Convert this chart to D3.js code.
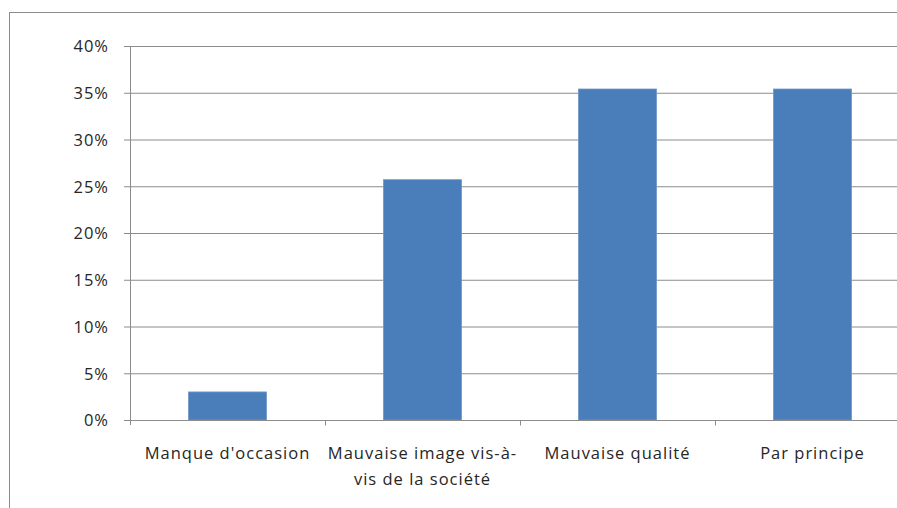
<!DOCTYPE html>
<html>
<head>
<meta charset="utf-8">
<script src="https://cdn.jsdelivr.net/npm/d3@7"></script>
<style>
  html, body { margin: 0; padding: 0; background: #fff; }
  svg { display: block; }
  text { font-family: "Open Sans", Lato, sans-serif; fill: #262626; }
</style>
</head>
<body>
<svg id="chart" width="897" height="508"></svg>
<script>
// Share of respondents by reason
const categories = ["Manque d'occasion", "Mauvaise image vis-à-vis de la société", "Mauvaise qualité", "Par principe"];
const labelLines = [["Manque d'occasion"], ["Mauvaise image vis-à-", "vis de la société"], ["Mauvaise qualité"], ["Par principe"]];
const values = [0.03, 0.257, 0.354, 0.354];
const yTicks = [0, 0.05, 0.10, 0.15, 0.20, 0.25, 0.30, 0.35, 0.40];

const W = 897, H = 508;
const FONT = 16.5, SPACING = 1.0;
const svg = d3.select("#chart");

// Outer chart frame (left and top edges visible in the viewport)
svg.append("rect")
  .attr("x", 9.5).attr("y", 12.5)
  .attr("width", W + 20).attr("height", H + 20)
  .attr("fill", "#fff").attr("stroke", "#8c8c8c").attr("stroke-width", 1);

const plot = { left: 130, right: 910, top: 46, bottom: 420 };

const x = d3.scaleBand().domain(categories).range([plot.left, plot.right]).padding(0);
const y = d3.scaleLinear().domain([0, 0.40]).range([plot.bottom, plot.top]);

// Horizontal gridlines with tick marks to the left of the axis
const yAxis = d3.axisLeft(y).tickValues(yTicks).tickFormat(d3.format(".0%"))
  .tickSize(-(plot.right - plot.left)).tickSizeOuter(0).tickPadding(21);
const gy = svg.append("g").attr("transform", `translate(${plot.left},0)`).call(yAxis);
gy.select(".domain").remove();
gy.selectAll(".tick line").attr("stroke", "#8c8c8c").attr("x1", -6);
gy.selectAll(".tick text").attr("font-size", FONT).attr("letter-spacing", SPACING)
  .attr("fill", "#262626").attr("dy", "0.36em");

// Vertical axis line
svg.append("line")
  .attr("x1", plot.left + 0.5).attr("x2", plot.left + 0.5)
  .attr("y1", plot.top).attr("y2", plot.bottom + 5)
  .attr("stroke", "#8c8c8c");

// Bars
const barW = x.bandwidth() / 2.5;
svg.append("g").selectAll("rect").data(values).join("rect")
  .attr("x", (d, i) => x(categories[i]) + (x.bandwidth() - barW) / 2)
  .attr("y", d => y(d))
  .attr("width", barW)
  .attr("height", d => y(0) - y(d))
  .attr("fill", "#4a7ebb")
  .attr("stroke", "#6f97c9").attr("stroke-width", 0.8);

// Horizontal axis with category separators
const xAxis = d3.axisBottom(x).tickSize(0).tickFormat("");
const gx = svg.append("g").attr("transform", `translate(0,${plot.bottom + 0.5})`).call(xAxis);
gx.select(".domain").attr("stroke", "#8c8c8c").attr("d", `M${plot.left},0H${plot.right}`);
categories.forEach((c, i) => {
  if (i === 0) return;
  gx.append("line").attr("x1", Math.round(x(c)) + 0.5).attr("x2", Math.round(x(c)) + 0.5)
    .attr("y1", 0).attr("y2", 5).attr("stroke", "#8c8c8c");
});

// Category labels
const lab = svg.append("g");
categories.forEach((c, i) => {
  const cx = x(c) + x.bandwidth() / 2;
  const t = lab.append("text").attr("text-anchor", "middle").attr("font-size", FONT)
    .attr("letter-spacing", SPACING);
  labelLines[i].forEach((ln, j) => {
    t.append("tspan").attr("x", cx).attr("y", 459 + j * 26).text(ln);
  });
});
</script>
</body>
</html>
